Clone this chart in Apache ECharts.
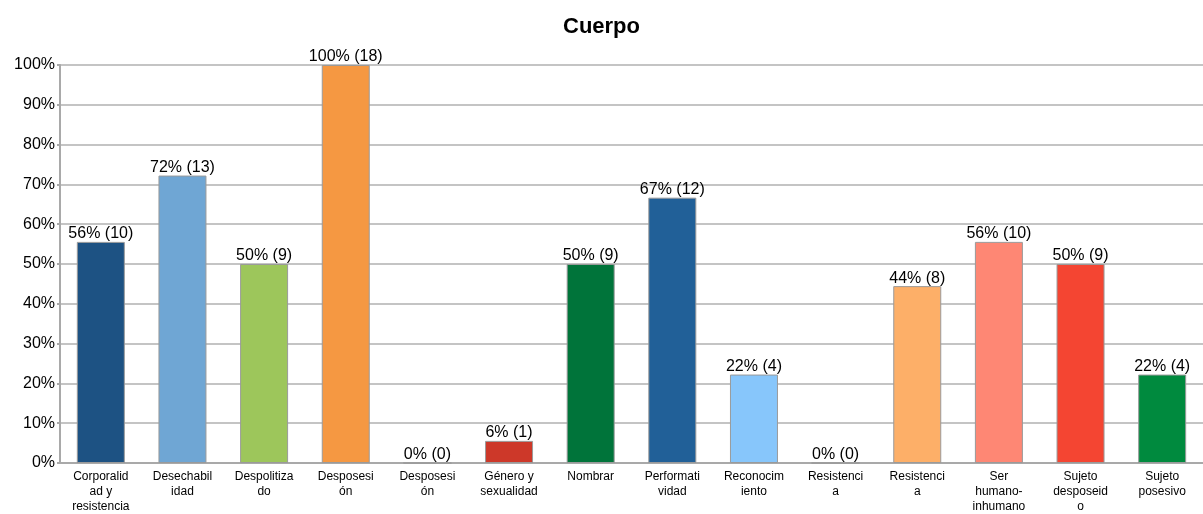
<!DOCTYPE html>
<html>
<head>
<meta charset="utf-8">
<script src="https://cdn.jsdelivr.net/npm/echarts@6/dist/echarts.min.js"></script>
<style>
  html, body { margin: 0; padding: 0; background: #fff; }
  #chart { width: 1203px; height: 514px; }
</style>
</head>
<body>
<div id="chart"></div>
<script>
// Category labels as they wrap under each bar
const categories = [
  'Corporalid\nad y\nresistencia',
  'Desechabil\nidad',
  'Despolitiza\ndo',
  'Desposesi\nón',
  'Desposesi\nón',
  'Género y\nsexualidad',
  'Nombrar',
  'Performati\nvidad',
  'Reconocim\niento',
  'Resistenci\na',
  'Resistenci\na',
  'Ser\nhumano-\ninhumano',
  'Sujeto\ndesposeid\no',
  'Sujeto\nposesivo'
];

// Number of cases per category, out of the total
const counts = [10, 13, 9, 18, 0, 1, 9, 12, 4, 0, 8, 10, 9, 4];
const total = 18;

const barColors = [
  '#1d5283', '#6fa6d4', '#9dc65b', '#f59842', '#9e9e9e', '#cd3829', '#00743a',
  '#216098', '#87c6fb', '#9e9e9e', '#fdaf68', '#fe8774', '#f44532', '#008a3e'
];

const yTicks = [0, 10, 20, 30, 40, 50, 60, 70, 80, 90, 100];

const chart = echarts.init(document.getElementById('chart'), null, { renderer: 'canvas' });

const data = counts.map((c, i) => ({
  value: c / total * 100,
  count: c,
  itemStyle: { color: barColors[i] }
}));

chart.setOption({
  animation: false,
  backgroundColor: '#fff',
  title: {
    text: 'Cuerpo',
    left: 'center',
    top: 11,
    textStyle: { fontFamily: 'Liberation Sans', fontWeight: 'bold', fontSize: 22, color: '#000' }
  },
  grid: { left: 60, right: 0, top: 65, bottom: 50, containLabel: false },
  xAxis: {
    type: 'category',
    data: categories,
    axisLine: { lineStyle: { color: '#a9a9a9', width: 2 } },
    axisTick: { show: false },
    axisLabel: {
      interval: 0,
      margin: 6,
      fontFamily: 'Liberation Sans',
      fontSize: 12,
      lineHeight: 15,
      color: '#000'
    }
  },
  yAxis: {
    type: 'value',
    min: yTicks[0],
    max: yTicks[yTicks.length - 1],
    interval: 10,
    axisLine: { show: true, lineStyle: { color: '#a9a9a9', width: 2 } },
    axisTick: { show: true, length: 3, lineStyle: { color: '#a9a9a9', width: 2 } },
    splitLine: { lineStyle: { color: '#c4c4c4', width: 2 } },
    axisLabel: {
      margin: 5,
      fontFamily: 'Liberation Sans',
      fontSize: 16,
      color: '#000',
      formatter: v => v + '%'
    }
  },
  series: [{
    type: 'bar',
    data: data,
    barWidth: 48,
    itemStyle: { borderColor: '#9a9a9a', borderWidth: 1 },
    label: {
      show: true,
      position: 'top',
      distance: 0,
      fontFamily: 'Liberation Sans',
      fontSize: 16,
      color: '#000',
      formatter: p => Math.round(p.value) + '% (' + p.data.count + ')'
    }
  }]
});
</script>
</body>
</html>
